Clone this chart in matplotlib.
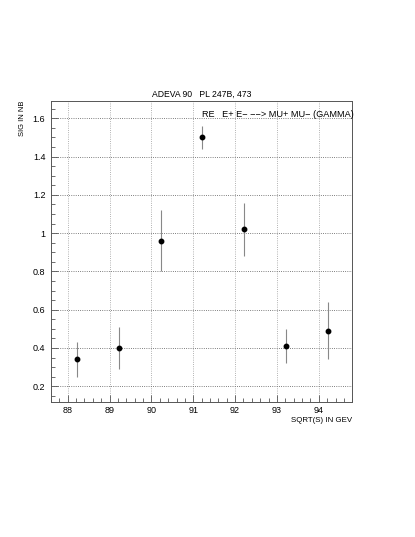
import numpy as np
import matplotlib
matplotlib.use('Agg')
import matplotlib.pyplot as plt
from matplotlib.ticker import MultipleLocator, FuncFormatter

# ---------- data ----------
sqrt_s = [88.22, 89.22, 90.22, 91.22, 92.22, 93.22, 94.22]
sigma = [0.34, 0.40, 0.96, 1.50, 1.02, 0.41, 0.49]
sigma_err = [0.09, 0.11, 0.16, 0.06, 0.14, 0.09, 0.15]

title = "ADEVA 90   PL 247B, 473"
reaction = "RE   E+ E\u2212 \u2212\u2212> MU+ MU\u2212 (GAMMA)"

plt.rcParams['font.family'] = ['Liberation Sans', 'DejaVu Sans']
fs = 6.2

fig = plt.figure(figsize=(4.15, 5.37), dpi=100)
ax = fig.add_axes([0.1229, 0.2508, 0.7259, 0.5617])

ax.errorbar(sqrt_s, sigma, yerr=sigma_err, fmt='o', color='black', ms=3.2,
            ecolor='#888888', elinewidth=0.8, capsize=0)

ax.set_xlim(87.6, 94.8)
ax.set_ylim(0.116, 1.692)

ax.xaxis.set_major_locator(MultipleLocator(1))
ax.xaxis.set_minor_locator(MultipleLocator(0.2))
ax.yaxis.set_major_locator(MultipleLocator(0.2))
ax.yaxis.set_minor_locator(MultipleLocator(0.05))
ax.yaxis.set_major_formatter(FuncFormatter(lambda v, p: f"{v:g}"))
ax.xaxis.set_major_formatter(FuncFormatter(lambda v, p: f"{v:g}"))

ax.tick_params(which='both', direction='in', top=False, right=False,
               labelsize=fs + 0.3, color='#555555', width=0.6)
ax.tick_params(axis='x', pad=2.5)
ax.tick_params(axis='y', pad=4)
ax.tick_params(which='major', length=5)
ax.tick_params(which='minor', length=3)

ax.grid(True, which='major', axis='y', linestyle=':', color='#555555', linewidth=0.6)
ax.grid(True, which='major', axis='x', linestyle=':', color='#999999', linewidth=0.6)
for s in ax.spines.values():
    s.set_color('#555555')
    s.set_linewidth(0.7)

ax.set_title(title, fontsize=fs, pad=3)
ax.text(0.5, 0.955, reaction, transform=ax.transAxes, fontsize=fs + 0.4,
        ha='left', va='center', clip_on=False)
fig.text(352 / 415, 1 - 420 / 537, "SQRT(S) IN GEV", fontsize=fs - 0.5,
         ha='right', va='center')
fig.text(23 / 415, 1 - 101 / 537, "SIG IN NB", fontsize=fs - 0.8, rotation=90,
         ha='center', va='top')

fig.savefig('out.png', dpi=100)
